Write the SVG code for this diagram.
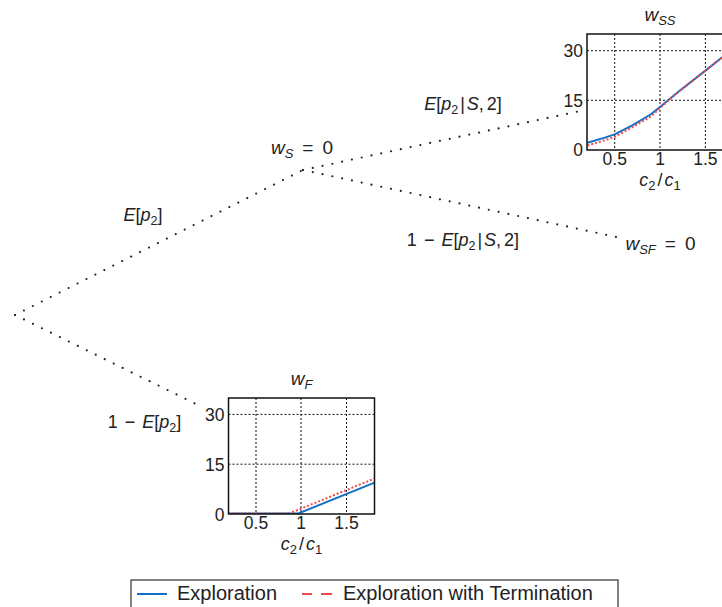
<svg xmlns="http://www.w3.org/2000/svg" width="722" height="607" viewBox="0 0 722 607">
<style>
  text { font-family: "Liberation Sans", Arial, sans-serif; fill: #222; }
  .lbl { font-size: 18px; }
  .node { font-size: 19px; }
  .axl { font-size: 18px; }
  .tick { font-size: 17.5px; }
  .leg { font-size: 20px; }
  .it { font-style: italic; }
  .frame { fill: none; stroke: #111; stroke-width: 1.5; }
  .grid { fill: none; stroke: #111; stroke-width: 1; stroke-dasharray: 2 2; }
  .conn { fill: none; stroke: #222; stroke-width: 2.2; stroke-linecap: round; stroke-dasharray: 0 10; }
  .blue { fill: none; stroke: #1270c4; stroke-width: 2; }
  .red { fill: none; stroke: #f04a4a; stroke-width: 2; stroke-dasharray: 2 2; }
</style>
<defs>
  <clipPath id="clipSS"><rect x="587" y="34" width="146" height="116"/></clipPath>
  <clipPath id="clipF"><rect x="228.5" y="398" width="146" height="116"/></clipPath>
</defs>
<rect width="722" height="607" fill="#fff"/>

<g id="connectors">
  <line class="conn" x1="15" y1="315" x2="303" y2="170"/>
  <line class="conn" x1="15" y1="315" x2="200" y2="406"/>
  <line class="conn" x1="303" y1="170" x2="585" y2="110"/>
  <line class="conn" x1="303" y1="170" x2="621" y2="238"/>
</g>

<g id="edge-labels">
  <text class="lbl" x="143" y="221" text-anchor="middle"><tspan class="it">E</tspan>[<tspan class="it">p</tspan><tspan font-size="12.5" dy="4">2</tspan><tspan dy="-4">]</tspan></text>
  <text class="lbl" x="144.5" y="428" text-anchor="middle">1<tspan dx="7">−</tspan><tspan class="it" dx="7">E</tspan>[<tspan class="it">p</tspan><tspan font-size="12.5" dy="4">2</tspan><tspan dy="-4">]</tspan></text>
  <text class="lbl" x="463" y="110" text-anchor="middle"><tspan class="it">E</tspan>[<tspan class="it">p</tspan><tspan font-size="12.5" dy="4">2</tspan><tspan dy="-4" dx="2">|</tspan><tspan class="it" dx="2">S</tspan>,<tspan dx="3">2]</tspan></text>
  <text class="lbl" x="463" y="246" text-anchor="middle">1<tspan dx="7">−</tspan><tspan class="it" dx="7">E</tspan>[<tspan class="it">p</tspan><tspan font-size="12.5" dy="4">2</tspan><tspan dy="-4" dx="2">|</tspan><tspan class="it" dx="2">S</tspan>,<tspan dx="3">2]</tspan></text>
</g>

<g id="node-wS">
  <text class="node" x="302" y="154" text-anchor="middle"><tspan class="it">w</tspan><tspan class="it" font-size="13" dy="4">S</tspan><tspan dy="-4" dx="9">=</tspan><tspan dx="9">0</tspan></text>
</g>

<g id="node-wSF">
  <text class="node" x="660.5" y="250" text-anchor="middle"><tspan class="it">w</tspan><tspan class="it" font-size="13" dy="4">SF</tspan><tspan dy="-4" dx="9">=</tspan><tspan dx="9">0</tspan></text>
</g>

<g id="node-wSS">
  <text class="node" x="660" y="21" text-anchor="middle"><tspan class="it">w</tspan><tspan class="it" font-size="13" dy="4">SS</tspan></text>
  <line class="grid" x1="614.7" y1="34" x2="614.7" y2="150"/>
  <line class="grid" x1="660" y1="34" x2="660" y2="150"/>
  <line class="grid" x1="705.4" y1="34" x2="705.4" y2="150"/>
  <line class="grid" x1="587" y1="100.3" x2="733" y2="100.3"/>
  <line class="grid" x1="587" y1="50.7" x2="733" y2="50.7"/>
  <g clip-path="url(#clipSS)">
    <polyline class="blue" points="587.4,142.7 605.6,137.4 614.7,134.4 632.8,125.2 650.9,114.3 660,107 678.1,92.1 705.4,70.6 732.6,49"/>
    <polyline class="red" points="587.4,145.5 605.6,140 614.7,136.8 632.8,127 650.9,116.5 660,108 678.1,92.1 705.4,70.6 732.6,49"/>
  </g>
  <rect class="frame" x="587" y="34" width="146" height="116"/>
  <text class="tick" x="583" y="57" text-anchor="end">30</text>
  <text class="tick" x="583" y="107" text-anchor="end">15</text>
  <text class="tick" x="583" y="156" text-anchor="end">0</text>
  <text class="tick" x="614.7" y="165" text-anchor="middle">0.5</text>
  <text class="tick" x="660" y="165" text-anchor="middle">1</text>
  <text class="tick" x="705.4" y="165" text-anchor="middle">1.5</text>
  <text class="axl" x="660" y="186" text-anchor="middle"><tspan class="it">c</tspan><tspan font-size="13" dy="4">2</tspan><tspan dy="-4" dx="2">/</tspan><tspan class="it" dx="2">c</tspan><tspan font-size="13" dy="4">1</tspan></text>
</g>

<g id="node-wF">
  <text class="node" x="301.5" y="385" text-anchor="middle"><tspan class="it">w</tspan><tspan class="it" font-size="13" dy="4">F</tspan></text>
  <line class="grid" x1="256" y1="398" x2="256" y2="514"/>
  <line class="grid" x1="301" y1="398" x2="301" y2="514"/>
  <line class="grid" x1="346.5" y1="398" x2="346.5" y2="514"/>
  <line class="grid" x1="228.5" y1="464.2" x2="374.5" y2="464.2"/>
  <line class="grid" x1="228.5" y1="414.4" x2="374.5" y2="414.4"/>
  <g clip-path="url(#clipF)">
    <polyline class="blue" points="228.5,513.5 298.3,513.5 374.5,482.6"/>
    <polyline class="red" points="228.5,513.5 289.2,513.5 374.5,478.5"/>
  </g>
  <rect class="frame" x="228.5" y="398" width="146" height="116"/>
  <text class="tick" x="224.5" y="420.5" text-anchor="end">30</text>
  <text class="tick" x="224.5" y="470.5" text-anchor="end">15</text>
  <text class="tick" x="224.5" y="520.5" text-anchor="end">0</text>
  <text class="tick" x="256" y="528.5" text-anchor="middle">0.5</text>
  <text class="tick" x="301" y="528.5" text-anchor="middle">1</text>
  <text class="tick" x="346.5" y="528.5" text-anchor="middle">1.5</text>
  <text class="axl" x="301.5" y="549.5" text-anchor="middle"><tspan class="it">c</tspan><tspan font-size="13" dy="4">2</tspan><tspan dy="-4" dx="2">/</tspan><tspan class="it" dx="2">c</tspan><tspan font-size="13" dy="4">1</tspan></text>
</g>

<g id="legend">
  <rect x="131" y="580" width="487" height="40" fill="#fff" stroke="#333" stroke-width="1.2"/>
  <line x1="137" y1="594" x2="167" y2="594" stroke="#1270c4" stroke-width="2"/>
  <text class="leg" x="177" y="600">Exploration</text>
  <line x1="302" y1="594" x2="312" y2="594" stroke="#f04a4a" stroke-width="2"/>
  <line x1="321" y1="594" x2="332" y2="594" stroke="#f04a4a" stroke-width="2"/>
  <text class="leg" x="343" y="600">Exploration with Termination</text>
</g>
</svg>
